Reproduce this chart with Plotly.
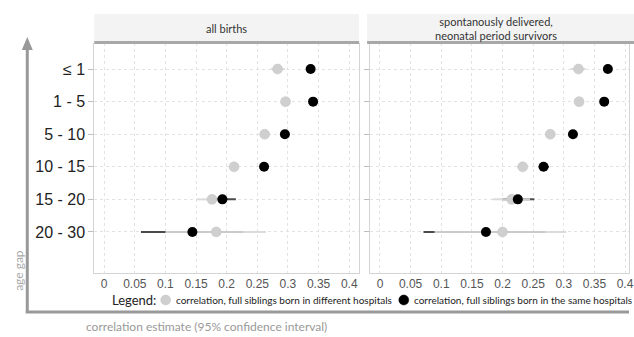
import plotly.graph_objects as go

W, H = 634, 337

age_gaps = ["≤ 1", "1 - 5", "5 - 10", "10 - 15", "15 - 20", "20 - 30"]

# panel 1: all births
all_diff = [0.283, 0.296, 0.262, 0.212, 0.176, 0.183]
all_diff_lo = [0.272, 0.291, 0.257, 0.207, 0.151, 0.100]
all_diff_hi = [0.295, 0.301, 0.267, 0.217, 0.200, 0.264]
all_same = [0.337, 0.341, 0.295, 0.261, 0.193, 0.144]
all_same_lo = [0.332, 0.337, 0.291, 0.254, 0.172, 0.060]
all_same_hi = [0.342, 0.345, 0.299, 0.268, 0.215, 0.227]

# panel 2: spontaneously delivered, neonatal period survivors
sp_diff = [0.324, 0.325, 0.278, 0.233, 0.215, 0.200]
sp_diff_lo = [0.311, 0.321, 0.274, 0.224, 0.184, 0.089]
sp_diff_hi = [0.336, 0.329, 0.282, 0.241, 0.245, 0.304]
sp_same = [0.372, 0.366, 0.315, 0.267, 0.225, 0.173]
sp_same_lo = [0.368, 0.362, 0.311, 0.259, 0.200, 0.071]
sp_same_hi = [0.376, 0.370, 0.319, 0.276, 0.252, 0.270]

x_ticks = [0, 0.05, 0.1, 0.15, 0.2, 0.25, 0.3, 0.35, 0.4]
x_tick_text = ["0", "0.05", "0.1", "0.15", "0.2", "0.25", "0.3", "0.35", "0.4"]

panel_titles = ["all births", "spontanously delivered,<br>neonatal period survivors"]
legend_names = ["correlation, full siblings born in different hospitals",
                "correlation, full siblings born in the same hospitals"]

GREY = "#cfcfcf"
CI_GREY = "#d8d8d8"
CI_DARK = "#4a4a4a"
CAL = "Lato, Carlito, Calibri, sans-serif"
ARIAL = "Liberation Sans, Arial, sans-serif"


def px_x(p):
    return p / W


def px_y(p):
    return 1 - p / H


def ci_xy(lo, hi):
    xs, ys = [], []
    for a, b, c in zip(lo, hi, age_gaps):
        xs += [a, b, None]
        ys += [c, c, None]
    return xs, ys


fig = go.Figure()

panels = [
    (all_diff, all_diff_lo, all_diff_hi, all_same, all_same_lo, all_same_hi),
    (sp_diff, sp_diff_lo, sp_diff_hi, sp_same, sp_same_lo, sp_same_hi),
]

for i, (d, dlo, dhi, s, slo, shi) in enumerate(panels):
    xa = "x" if i == 0 else "x2"
    ya = "y" if i == 0 else "y2"
    xs, ys = ci_xy(slo, shi)
    fig.add_trace(go.Scatter(x=xs, y=ys, mode="lines", xaxis=xa, yaxis=ya,
                             line=dict(color=CI_DARK, width=2), showlegend=False,
                             hoverinfo="skip"))
    xs, ys = ci_xy(dlo, dhi)
    fig.add_trace(go.Scatter(x=xs, y=ys, mode="lines", xaxis=xa, yaxis=ya,
                             line=dict(color=CI_GREY, width=2), opacity=0.9,
                             showlegend=False, hoverinfo="skip"))
    fig.add_trace(go.Scatter(x=d, y=age_gaps, mode="markers", xaxis=xa, yaxis=ya,
                             name=legend_names[0], showlegend=False,
                             marker=dict(color=GREY, size=10,
                                         line=dict(color="#c4c4c4", width=0.5))))
    fig.add_trace(go.Scatter(x=s, y=age_gaps, mode="markers", xaxis=xa, yaxis=ya,
                             name=legend_names[1], showlegend=False,
                             marker=dict(color="#000000", size=10)))

x_range1 = [-10 / 617.5, 257 / 617.5]
x_range2 = [-10 / 617.5, 251 / 617.5]
y_range = [6.26, -0.8]

common_x = dict(tickvals=x_ticks, ticktext=x_tick_text, showgrid=True,
                gridcolor="#e3e3e3", griddash="dot", gridwidth=1,
                showline=True, linecolor="#d4d4d4", linewidth=1, ticks="",
                ticklabeloverflow="allow",
                tickfont=dict(family=ARIAL, size=12, color="#555555"),
                zeroline=False, fixedrange=True)
common_y = dict(type="category", categoryarray=age_gaps, range=y_range,
                showgrid=True, gridcolor="#e3e3e3", griddash="dot", gridwidth=1,
                showline=True, linecolor="#d4d4d4", linewidth=1, mirror=True,
                ticks="outside", ticklen=5, tickcolor="#bdbdbd",
                zeroline=False, fixedrange=True)

fig.update_layout(
    width=W, height=H,
    margin=dict(l=0, r=0, t=0, b=0),
    paper_bgcolor="white", plot_bgcolor="white",
    xaxis=dict(domain=[px_x(95), px_x(362)], range=x_range1, anchor="y", **common_x),
    xaxis2=dict(domain=[px_x(373), 1.0], range=x_range2, anchor="y2", **common_x),
    yaxis=dict(domain=[px_y(273), px_y(43)], anchor="x",
               tickfont=dict(family=ARIAL, size=16, color="#222222"), **common_y),
    yaxis2=dict(domain=[px_y(273), px_y(43)], anchor="x2", showticklabels=False,
                **common_y),
    showlegend=False,
)

shapes = []
annotations = []
# strip headers
for (x0, x1), title, cx in zip([(95, 362), (370, 640)], panel_titles, [228, 500]):
    shapes.append(dict(type="rect", xref="paper", yref="paper",
                       x0=px_x(x0), x1=px_x(x1), y0=px_y(43), y1=px_y(14),
                       fillcolor="#f3f3f3", line=dict(width=0), layer="below"))
    shapes.append(dict(type="line", xref="paper", yref="paper",
                       x0=px_x(x0), x1=px_x(x1), y0=px_y(42.5), y1=px_y(42.5),
                       line=dict(color="#a8a8a8", width=3)))
    annotations.append(dict(text=title, xref="paper", yref="paper",
                            x=px_x(cx), y=px_y(28.5), xanchor="center",
                            yanchor="middle", showarrow=False, align="center",
                            font=dict(family=CAL, size=11, color="#333333")))

# legend row: key symbols and labels
annotations.append(dict(text="Legend:", xref="paper", yref="paper",
                        x=px_x(111), y=px_y(300), xanchor="left", yanchor="middle",
                        showarrow=False,
                        font=dict(family=CAL, size=13, color="#222222")))
for cx, fill, edge, label in [(167, GREY, "#c4c4c4", legend_names[0]),
                              (407, "#000000", "#000000", legend_names[1])]:
    shapes.append(dict(type="circle", xref="paper", yref="paper",
                       x0=px_x(cx - 5), x1=px_x(cx + 5),
                       y0=px_y(300 + 5), y1=px_y(300 - 5),
                       fillcolor=fill, line=dict(color=edge, width=0.5)))
    annotations.append(dict(text=label, xref="paper", yref="paper",
                            x=px_x(cx + 8), y=px_y(300), xanchor="left",
                            yanchor="middle", showarrow=False,
                            font=dict(family=CAL, size=10, color="#222222")))

# L-shaped axis frame with arrow
shapes.append(dict(type="line", xref="paper", yref="paper",
                   x0=px_x(27.5), x1=px_x(27.5), y0=px_y(313), y1=px_y(48),
                   line=dict(color="#999999", width=3)))
shapes.append(dict(type="line", xref="paper", yref="paper",
                   x0=px_x(26), x1=px_x(634), y0=px_y(312), y1=px_y(312),
                   line=dict(color="#999999", width=3)))
shapes.append(dict(type="path", xref="paper", yref="paper",
                   path=f"M {px_x(22)} {px_y(50)} L {px_x(27.5)} {px_y(37)} L {px_x(33)} {px_y(50)} Z",
                   fillcolor="#999999", line=dict(width=0)))

annotations.append(dict(text="age gap", xref="paper", yref="paper",
                        x=px_x(18), y=px_y(270), textangle=-90,
                        xanchor="center", yanchor="middle", showarrow=False,
                        font=dict(family=CAL, size=12, color="#aaaaaa")))
annotations.append(dict(text="correlation estimate (95% confidence interval)",
                        xref="paper", yref="paper", x=px_x(85), y=px_y(326),
                        xanchor="left", yanchor="middle", showarrow=False,
                        font=dict(family=CAL, size=12, color="#999999")))

fig.update_layout(shapes=shapes, annotations=annotations)

fig.write_html("out.html")
